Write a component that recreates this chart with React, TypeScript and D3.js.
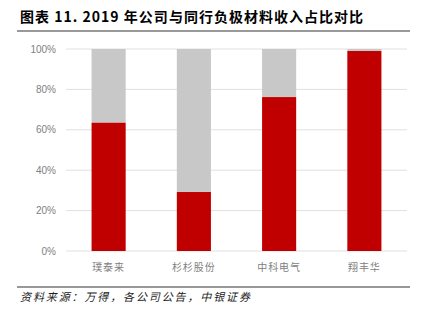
import React from "react";
import * as d3 from "d3";

const categories = ["璞泰来", "杉杉股份", "中科电气", "翔丰华"];
const negativeShare = [0.635, 0.292, 0.762, 0.99];
const yTicks = [0, 0.2, 0.4, 0.6, 0.8, 1.0];
const title = "图表 11. 2019 年公司与同行负极材料收入占比对比";
const source = "资料来源：万得，各公司公告，中银证券";

export default function App() {
  const W = 423, H = 322;
  const x = d3.scaleBand<string>().domain(categories).range([66, 407]).paddingInner(0.6).paddingOuter(0.3);
  const y = d3.scaleLinear().domain([0, 1]).range([251, 49]);
  const fmt = d3.format(".0%");
  const cjk = "'Noto Sans CJK SC', sans-serif";
  return (
    <svg width={W} height={H} style={{ position: "absolute", left: 0, top: 0, background: "#fff" }}>
      <text x={20} y={22} fontFamily={cjk} fontSize={14} fontWeight="bold" fill="#000" textLength={343} lengthAdjust="spacing">{title}</text>
      <line x1={17} x2={410} y1={31} y2={31} stroke="#999" strokeWidth={2} />
      {yTicks.map((t) => (
        <g key={t}>
          <line x1={66} x2={407} y1={y(t)} y2={y(t)} stroke="#e0e0e0" strokeWidth={1} />
          <text x={56} y={y(t) + 3.5} textAnchor="end" fontFamily="'Liberation Sans', Arial, sans-serif" fontSize={10} fill="#808080">{fmt(t)}</text>
        </g>
      ))}
      {categories.map((c, i) => (
        <g key={c}>
          <rect x={x(c)} y={y(1)} width={x.bandwidth()} height={y(negativeShare[i]) - y(1)} fill="#c8c8c8" />
          <rect x={x(c)} y={y(negativeShare[i])} width={x.bandwidth()} height={y(0) - y(negativeShare[i])} fill="#c00000" />
          <text x={(x(c) as number) + x.bandwidth() / 2} y={271} textAnchor="middle" fontFamily={cjk} fontSize={10} fill="#808080" letterSpacing={1}>{c}</text>
        </g>
      ))}
      <line x1={17} x2={410} y1={287} y2={287} stroke="#333" strokeWidth={1.2} />
      <text x={20} y={301} fontFamily={cjk} fontSize={11} fontStyle="italic" fill="#222" textLength={230} lengthAdjust="spacing">{source}</text>
    </svg>
  );
}
